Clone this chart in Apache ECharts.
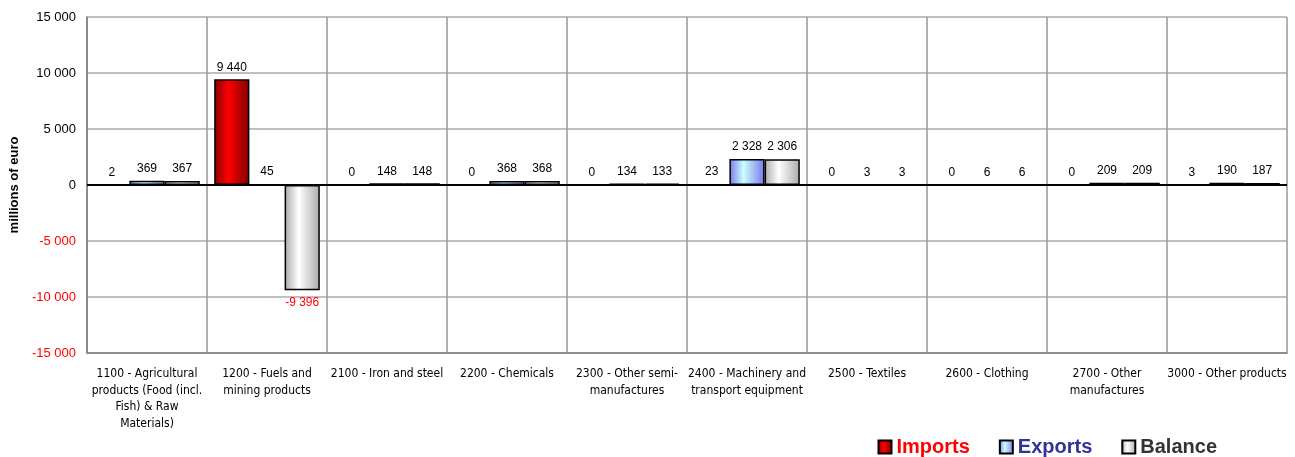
<!DOCTYPE html>
<html><head><meta charset="utf-8">
<script src="https://cdn.jsdelivr.net/npm/echarts@6/dist/echarts.min.js"></script>
<style>html,body{margin:0;padding:0;background:#fff}#c{width:1295px;height:457px}</style>
</head><body><div id="c"></div>
<script>
const categories = [
  "1100 - Agricultural\nproducts (Food (incl.\nFish) & Raw\nMaterials)",
  "1200 - Fuels and\nmining products",
  "2100 - Iron and steel",
  "2200 - Chemicals",
  "2300 - Other semi-\nmanufactures",
  "2400 - Machinery and\ntransport equipment",
  "2500 - Textiles",
  "2600 - Clothing",
  "2700 - Other\nmanufactures",
  "3000 - Other products"
];
const imports = [2, 9440, 0, 0, 0, 23, 0, 0, 0, 3];
const exportsV = [369, 45, 148, 368, 134, 2328, 3, 6, 209, 190];
const balance = [367, -9396, 148, 368, 133, 2306, 3, 6, 209, 187];
const yTicks = [-15000, -10000, -5000, 0, 5000, 10000, 15000];

function fmt(v){ const s = Math.abs(v).toString().replace(/\B(?=(\d{3})+(?!\d))/g,' '); return (v<0?'-':'')+s; }
function grad(dark, light){
  return {type:'linear',x:0,y:0,x2:1,y2:0,colorStops:[{offset:0,color:dark},{offset:0.4,color:light},{offset:1,color:dark}]};
}
function items(arr){
  return arr.map(v => v < 0 ? {value:v, label:{position:'bottom', color:'#ff0000', distance:6}} : {value:v});
}
const lbl = {show:true, position:'top', distance:6, color:'#000', fontFamily:'Arial, Liberation Sans', fontSize:12, formatter:p=>fmt(p.value)};
const chart = echarts.init(document.getElementById('c'));
chart.setOption({
  animation:false,
  grid:{left:84, right:8, top:17, bottom:104, containLabel:false},
  legend:{
    right:78, top:437, padding:0, icon:'rect', itemWidth:13, itemHeight:13, itemGap:29,
    textStyle:{fontFamily:'Arial, Liberation Sans', fontWeight:'bold', fontSize:20},
    data:[
      {name:'Imports', textStyle:{color:'#ff0000'}},
      {name:'Exports', textStyle:{color:'#333399'}},
      {name:'Balance', textStyle:{color:'#333333'}}
    ]
  },
  xAxis:{
    type:'category', data:categories,
    axisLine:{onZero:false, lineStyle:{color:'#808080', width:1.5}},
    axisTick:{show:false},
    splitLine:{show:true, lineStyle:{color:'#999', width:1.5}},
    axisLabel:{interval:0, color:'#000', fontFamily:'DejaVu Sans Condensed, DejaVu Sans', fontSize:12, lineHeight:16.5, margin:13}
  },
  yAxis:{
    type:'value', min:-15000, max:15000, interval:5000,
    name:'millions of euro', nameLocation:'middle', nameGap:64,
    nameTextStyle:{fontFamily:'Arial, Liberation Sans', fontWeight:'bold', fontSize:13, color:'#000'},
    axisLine:{show:true, lineStyle:{color:'#808080', width:1.5}},
    axisTick:{show:false},
    splitLine:{lineStyle:{color:'#aaa', width:1.5}},
    axisLabel:{fontFamily:'Arial, Liberation Sans', fontSize:13, margin:11,
      color:(v)=> Number(v) < 0 ? '#ff0000' : '#000',
      formatter:(v)=> yTicks.includes(v) ? fmt(v) : ''}
  },
  series:[
    {name:'Imports', type:'bar', data:items(imports), barGap:'0%', barCategoryGap:'12%',
     itemStyle:{color:grad('#800000','#ff0000'), borderColor:'#000', borderWidth:1.5}, label:lbl,
     markLine:{silent:true, symbol:'none', label:{show:false}, lineStyle:{color:'#000', width:2, type:'solid'}, data:[{yAxis:0}]}},
    {name:'Exports', type:'bar', data:items(exportsV), barGap:'0%', barCategoryGap:'12%',
     itemStyle:{color:grad('#7777ee','#ccffff'), borderColor:'#000', borderWidth:1.5}, label:lbl},
    {name:'Balance', type:'bar', data:items(balance), barGap:'0%', barCategoryGap:'12%',
     itemStyle:{color:grad('#aaaaaa','#ffffff'), borderColor:'#000', borderWidth:1.5}, label:lbl}
  ]
});
</script></body></html>
